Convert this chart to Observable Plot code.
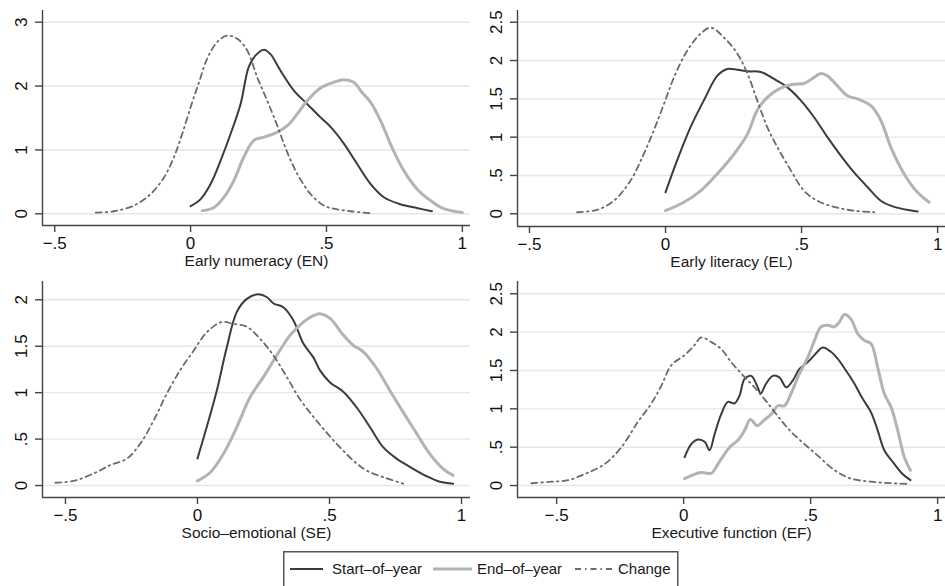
<!DOCTYPE html>
<html><head><meta charset="utf-8">
<script src="https://cdn.jsdelivr.net/npm/d3@7"></script>
<script src="https://cdn.jsdelivr.net/npm/@observablehq/plot@0.6"></script>
<style>
body{margin:0;background:#fff;font-family:"Liberation Sans",Arial,Helvetica,sans-serif;}
#wrap{position:relative;width:945px;height:586px;overflow:hidden;background:#fff;}
.pn{position:absolute;}
#legend{position:absolute;left:283px;top:551px;}
</style></head>
<body><div id="wrap"></div>
<script>
// ---- data: [x, density] ----
const enStart = [[0,0.12],[0.037,0.23],[0.074,0.47],[0.11,0.83],[0.147,1.25],[0.184,1.72],[0.214,2.30],[0.239,2.48],[0.27,2.57],[0.294,2.50],[0.331,2.24],[0.38,1.93],[0.429,1.72],[0.478,1.51],[0.515,1.36],[0.564,1.10],[0.613,0.78],[0.662,0.47],[0.711,0.26],[0.772,0.15],[0.833,0.09],[0.888,0.04]];
const enEnd = [[0.043,0.05],[0.086,0.10],[0.123,0.26],[0.159,0.52],[0.196,0.89],[0.233,1.15],[0.27,1.20],[0.319,1.28],[0.356,1.38],[0.392,1.56],[0.429,1.77],[0.478,1.97],[0.527,2.06],[0.564,2.10],[0.6,2.06],[0.631,1.90],[0.662,1.75],[0.699,1.46],[0.741,1.04],[0.784,0.68],[0.833,0.39],[0.882,0.21],[0.931,0.08],[1.0,0.02]];
const enChange = [[-0.349,0.02],[-0.282,0.04],[-0.208,0.13],[-0.147,0.31],[-0.098,0.57],[-0.061,0.89],[-0.031,1.25],[0,1.67],[0.031,2.06],[0.061,2.43],[0.098,2.69],[0.135,2.79],[0.172,2.74],[0.208,2.56],[0.245,2.14],[0.282,1.77],[0.319,1.38],[0.355,0.97],[0.392,0.63],[0.441,0.31],[0.49,0.13],[0.527,0.08],[0.588,0.04],[0.662,0.01]];

const elStart = [[0,0.28],[0.043,0.70],[0.092,1.13],[0.141,1.48],[0.19,1.80],[0.227,1.89],[0.264,1.88],[0.301,1.86],[0.35,1.85],[0.399,1.76],[0.448,1.65],[0.497,1.48],[0.546,1.26],[0.595,1.0],[0.644,0.76],[0.693,0.54],[0.742,0.35],[0.791,0.17],[0.84,0.09],[0.926,0.03]];
const elEnd = [[0,0.04],[0.067,0.15],[0.129,0.30],[0.19,0.52],[0.252,0.78],[0.301,1.04],[0.337,1.35],[0.374,1.52],[0.423,1.64],[0.472,1.69],[0.509,1.70],[0.546,1.78],[0.571,1.83],[0.595,1.80],[0.632,1.67],[0.669,1.54],[0.706,1.50],[0.755,1.41],[0.791,1.22],[0.828,0.87],[0.877,0.52],[0.926,0.28],[0.969,0.15]];
const elChange = [[-0.325,0.02],[-0.252,0.05],[-0.19,0.17],[-0.129,0.43],[-0.08,0.78],[-0.043,1.09],[-0.006,1.43],[0.031,1.78],[0.08,2.13],[0.129,2.35],[0.166,2.43],[0.215,2.30],[0.264,2.09],[0.301,1.83],[0.337,1.48],[0.374,1.13],[0.411,0.87],[0.46,0.57],[0.509,0.30],[0.558,0.17],[0.62,0.09],[0.693,0.04],[0.767,0.02]];

const seStart = [[0,0.29],[0.035,0.63],[0.073,1.02],[0.111,1.49],[0.149,1.87],[0.187,2.01],[0.231,2.06],[0.262,2.03],[0.288,1.96],[0.325,1.92],[0.363,1.78],[0.401,1.53],[0.439,1.38],[0.464,1.24],[0.502,1.11],[0.552,1.01],[0.603,0.84],[0.653,0.63],[0.704,0.41],[0.754,0.29],[0.805,0.20],[0.868,0.10],[0.918,0.04],[0.968,0.02]];
const seEnd = [[0,0.05],[0.048,0.14],[0.098,0.34],[0.149,0.63],[0.199,0.95],[0.25,1.17],[0.3,1.40],[0.351,1.62],[0.401,1.76],[0.439,1.83],[0.464,1.85],[0.502,1.80],[0.552,1.62],[0.59,1.51],[0.628,1.44],[0.679,1.26],[0.729,1.02],[0.779,0.79],[0.83,0.56],[0.88,0.34],[0.93,0.18],[0.968,0.11]];
const seChange = [[-0.538,0.03],[-0.469,0.05],[-0.393,0.13],[-0.33,0.22],[-0.267,0.29],[-0.217,0.45],[-0.166,0.70],[-0.116,0.99],[-0.066,1.24],[-0.015,1.45],[0.035,1.65],[0.092,1.76],[0.136,1.74],[0.187,1.71],[0.237,1.58],[0.288,1.40],[0.338,1.17],[0.388,0.93],[0.439,0.74],[0.489,0.57],[0.54,0.41],[0.59,0.27],[0.641,0.16],[0.704,0.09],[0.779,0.02]];

const efStart = [[0.004,0.37],[0.03,0.54],[0.056,0.60],[0.083,0.57],[0.102,0.46],[0.122,0.67],[0.148,0.93],[0.174,1.09],[0.2,1.07],[0.22,1.17],[0.24,1.39],[0.266,1.43],[0.292,1.28],[0.303,1.20],[0.325,1.33],[0.351,1.43],[0.377,1.41],[0.404,1.28],[0.43,1.37],[0.456,1.52],[0.489,1.61],[0.515,1.70],[0.548,1.80],[0.581,1.74],[0.607,1.65],[0.639,1.50],[0.672,1.33],[0.705,1.13],[0.737,0.96],[0.764,0.72],[0.79,0.46],[0.83,0.28],[0.862,0.15],[0.893,0.07]];
const efEnd = [[0.004,0.09],[0.03,0.13],[0.069,0.17],[0.109,0.16],[0.135,0.28],[0.161,0.41],[0.187,0.52],[0.214,0.59],[0.24,0.72],[0.263,0.86],[0.29,0.78],[0.316,0.85],[0.345,0.93],[0.371,1.04],[0.397,1.04],[0.423,1.20],[0.456,1.46],[0.489,1.67],[0.515,1.89],[0.541,2.07],[0.567,2.09],[0.594,2.07],[0.613,2.13],[0.633,2.23],[0.659,2.17],[0.685,1.98],[0.712,1.89],[0.738,1.85],[0.764,1.54],[0.79,1.20],[0.817,1.02],[0.843,0.72],[0.869,0.37],[0.893,0.20]];
const efChange = [[-0.599,0.03],[-0.52,0.05],[-0.455,0.07],[-0.389,0.15],[-0.311,0.28],[-0.245,0.50],[-0.18,0.83],[-0.127,1.07],[-0.088,1.30],[-0.048,1.57],[0.004,1.70],[0.043,1.83],[0.069,1.93],[0.109,1.87],[0.148,1.78],[0.187,1.61],[0.227,1.46],[0.279,1.28],[0.332,1.07],[0.384,0.85],[0.423,0.70],[0.476,0.54],[0.528,0.39],[0.594,0.20],[0.659,0.09],[0.738,0.05],[0.817,0.03],[0.882,0.02]];

const xTicks = [-0.5, 0, 0.5, 1];
const yTicksEN = [0, 1, 2, 3];
const yTicksHalf25 = [0, 0.5, 1, 1.5, 2, 2.5];
const yTicksHalf2 = [0, 0.5, 1, 1.5, 2];
const titles = ["Early numeracy (EN)", "Early literacy (EL)", "Socio\u2013emotional (SE)", "Executive function (EF)"];
const seriesNames = ["Start\u2013of\u2013year", "End\u2013of\u2013year", "Change"];

// ---- styles ----
const START = {stroke: "#3b3b3b", strokeWidth: 2};
const END = {stroke: "#b3b3b3", strokeWidth: 3};
const CHG = {stroke: "#6a6a6a", strokeWidth: 1.8, strokeDasharray: "6,4,1.5,4"};
const AX = "#444";
const fmt = d => d === 0 ? "0" : (d < 0 ? "\u2212" : "") + String(Math.abs(d)).replace(/^0\./, ".");

function panel(o) {
  const xy = {x: d => d[0], y: d => d[1], curve: "catmull-rom"};
  return Plot.plot({
    width: o.width, height: o.height,
    marginLeft: o.ml, marginRight: o.mr, marginTop: o.mt, marginBottom: o.mb,
    style: {fontFamily: '"Liberation Sans", Arial, sans-serif', color: "#111", background: "#fff", overflow: "visible"},
    x: {domain: o.xd, axis: null},
    y: {domain: o.yd, axis: null},
    marks: [
      Plot.gridY(o.yt, {stroke: "#e6e6e6", strokeOpacity: 1, strokeWidth: 1.4}),
      Plot.line(o.start, {...xy, ...START}),
      Plot.line(o.end, {...xy, ...END}),
      Plot.line(o.change, {...xy, ...CHG}),
      // axis lines
      Plot.ruleX([o.xd[0]], {stroke: AX, strokeWidth: 1.4}),
      Plot.ruleY([o.yd[0]], {stroke: AX, strokeWidth: 1.4}),
      // tick marks (outward)
      Plot.ruleY(o.yt, {y: d => d, x1: o.xd[0], x2: o.xd[0], insetLeft: -7, stroke: AX, strokeWidth: 1.4}),
      Plot.ruleX(xTicks, {x: d => d, y1: o.yd[0], y2: o.yd[0], insetBottom: -7, stroke: AX, strokeWidth: 1.4}),
      // tick labels
      Plot.text(o.yt, {x: o.xd[0], y: d => d, dx: -16, rotate: -90, textAnchor: "middle", lineAnchor: "bottom", text: fmt, fontSize: 17, fill: "#111"}),
      Plot.text(xTicks, {x: d => d, y: o.yd[0], dy: 11, lineAnchor: "top", text: fmt, fontSize: 17, fill: "#111"}),
      // axis title
      Plot.text([o.title], {text: d => d, frameAnchor: "bottom", dy: 40, fontSize: 15.5, fill: "#1a1a1a"})
    ]
  });
}

const wrap = document.getElementById("wrap");
const specs = [
  {left: 0, top: 0, width: 472, height: 280, ml: 42, mr: 2, mt: 10, mb: 55, xd: [-0.545, 1.030], yd: [-0.183, 3.183], yt: yTicksEN, start: enStart, end: enEnd, change: enChange, title: titles[0]},
  {left: 472, top: 0, width: 473, height: 280, ml: 45, mr: 0, mt: 10, mb: 54, xd: [-0.544, 1.029], yd: [-0.166, 2.653], yt: yTicksHalf25, start: elStart, end: elEnd, change: elChange, title: titles[1]},
  {left: 0, top: 280, width: 472, height: 270, ml: 42, mr: 2, mt: 1, mb: 53, xd: [-0.587, 1.034], yd: [-0.129, 2.197], yt: yTicksHalf2, start: seStart, end: seEnd, change: seChange, title: titles[2]},
  {left: 472, top: 280, width: 473, height: 270, ml: 45, mr: 0, mt: 1, mb: 53, xd: [-0.654, 1.031], yd: [-0.156, 2.66], yt: yTicksHalf25, start: efStart, end: efEnd, change: efChange, title: titles[3]}
];
for (const s of specs) {
  const el = panel(s);
  el.classList.add("pn");
  el.style.left = s.left + "px";
  el.style.top = s.top + "px";
  wrap.appendChild(el);
}

// ---- legend ----
const lg = d3.select(wrap).append("svg").attr("id", "legend").attr("width", 396).attr("height", 35)
  .style("font-family", '"Liberation Sans", Arial, sans-serif');
lg.append("rect").attr("x", 0.75).attr("y", 0.75).attr("width", 394).attr("height", 36).attr("fill", "#fff").attr("stroke", "#555").attr("stroke-width", 1.5);
const items = [
  {name: seriesNames[0], x1: 7, x2: 40, tx: 49, st: START},
  {name: seriesNames[1], x1: 150, x2: 189, tx: 194, st: END},
  {name: seriesNames[2], x1: 292, x2: 332, tx: 335, st: CHG}
];
for (const it of items) {
  lg.append("line").attr("x1", it.x1).attr("x2", it.x2).attr("y1", 18).attr("y2", 18)
    .attr("stroke", it.st.stroke).attr("stroke-width", it.st.strokeWidth).attr("stroke-dasharray", it.st.strokeDasharray || null);
  lg.append("text").attr("x", it.tx).attr("y", 18).attr("dy", "0.35em").attr("font-size", 15).attr("fill", "#1a1a1a").text(it.name);
}
</script>
</body></html>
